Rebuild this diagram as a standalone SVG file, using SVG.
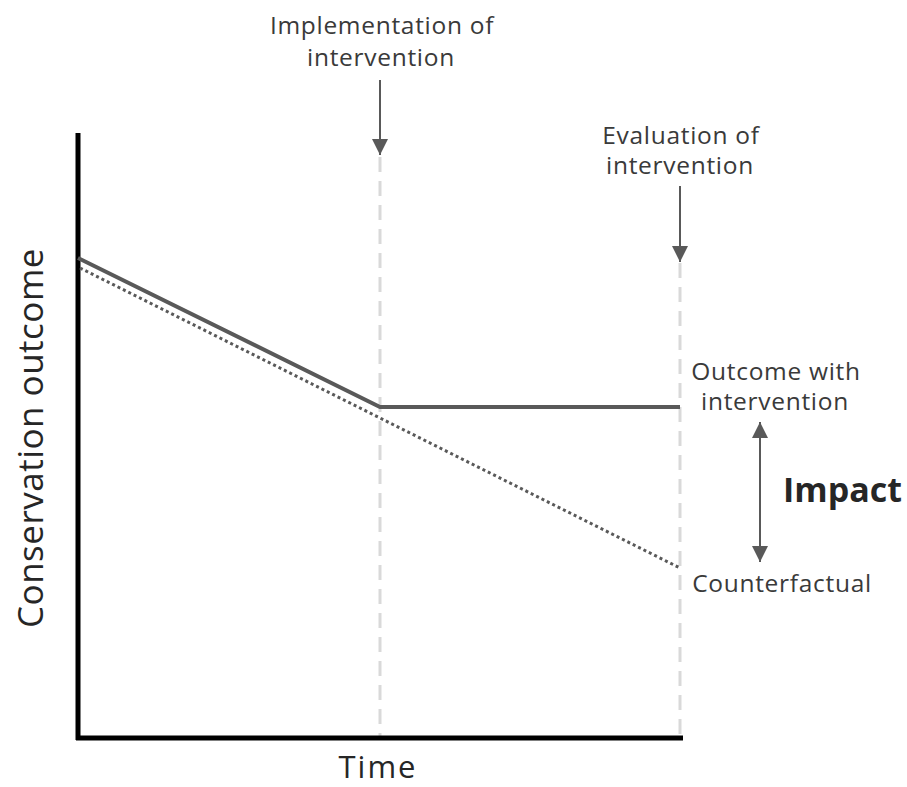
<svg xmlns="http://www.w3.org/2000/svg" width="907" height="787" viewBox="0 0 907 787">
<defs>
<style>
.lbl{font-family:"Open Sans","Noto Sans",sans-serif;font-size:24.5px;letter-spacing:0.7px;fill:#3a3a3a;text-anchor:middle}
.ax{font-family:"Open Sans","Noto Sans",sans-serif;font-size:31px;letter-spacing:2px;fill:#262626;text-anchor:middle}
.imp{font-family:"Open Sans","Noto Sans",sans-serif;font-size:34px;font-weight:bold;fill:#262626}
.guide{stroke:#d9d9d9;stroke-width:3;stroke-dasharray:15 9;fill:none}
.arr{stroke:#595959;stroke-width:2;fill:none}
</style>
<marker id="ahb" viewBox="0 0 10 10" refX="10" refY="5" markerWidth="16" markerHeight="16" markerUnits="userSpaceOnUse" orient="auto-start-reverse">
<path d="M0,0 L10,5 L0,10 z" fill="#595959"/>
</marker>
</defs>
<rect width="907" height="787" fill="#ffffff"/>
<g id="guides">
<line class="guide" x1="380" y1="157" x2="380" y2="736"/>
<line class="guide" x1="680" y1="263" x2="680" y2="736"/>
</g>
<g id="axes">
<line x1="78" y1="133" x2="78" y2="740" stroke="#000" stroke-width="5"/>
<line x1="76" y1="738" x2="683" y2="738" stroke="#000" stroke-width="5"/>
<text class="ax" x="378" y="778">Time</text>
<text class="ax" style="font-size:35px;letter-spacing:0.5px" transform="translate(43,438) rotate(-90)">Conservation outcome</text>
</g>
<g id="series">
<polyline points="78,258 380,407 680,407" fill="none" stroke="#595959" stroke-width="4"/>
<line x1="80" y1="268" x2="680" y2="568" stroke="#595959" stroke-width="3" stroke-dasharray="3 3"/>
</g>
<g id="connectors">
<line class="arr" x1="380" y1="80" x2="380" y2="155" marker-end="url(#ahb)"/>
<line class="arr" x1="680" y1="186" x2="680" y2="262" marker-end="url(#ahb)"/>
<line class="arr" x1="760" y1="422" x2="760" y2="562" marker-start="url(#ahb)" marker-end="url(#ahb)"/>
</g>
<g id="node-implementation">
<text class="lbl" x="382" y="34">Implementation of</text>
<text class="lbl" x="381" y="66">intervention</text>
</g>
<g id="node-evaluation">
<text class="lbl" x="681" y="144">Evaluation of</text>
<text class="lbl" x="680" y="174">intervention</text>
</g>
<g id="node-outcome">
<text class="lbl" x="776" y="380">Outcome with</text>
<text class="lbl" x="775" y="410">intervention</text>
</g>
<g id="node-impact">
<text class="imp" x="783" y="502">Impact</text>
</g>
<g id="node-counterfactual">
<text class="lbl" x="782" y="592">Counterfactual</text>
</g>
</svg>
